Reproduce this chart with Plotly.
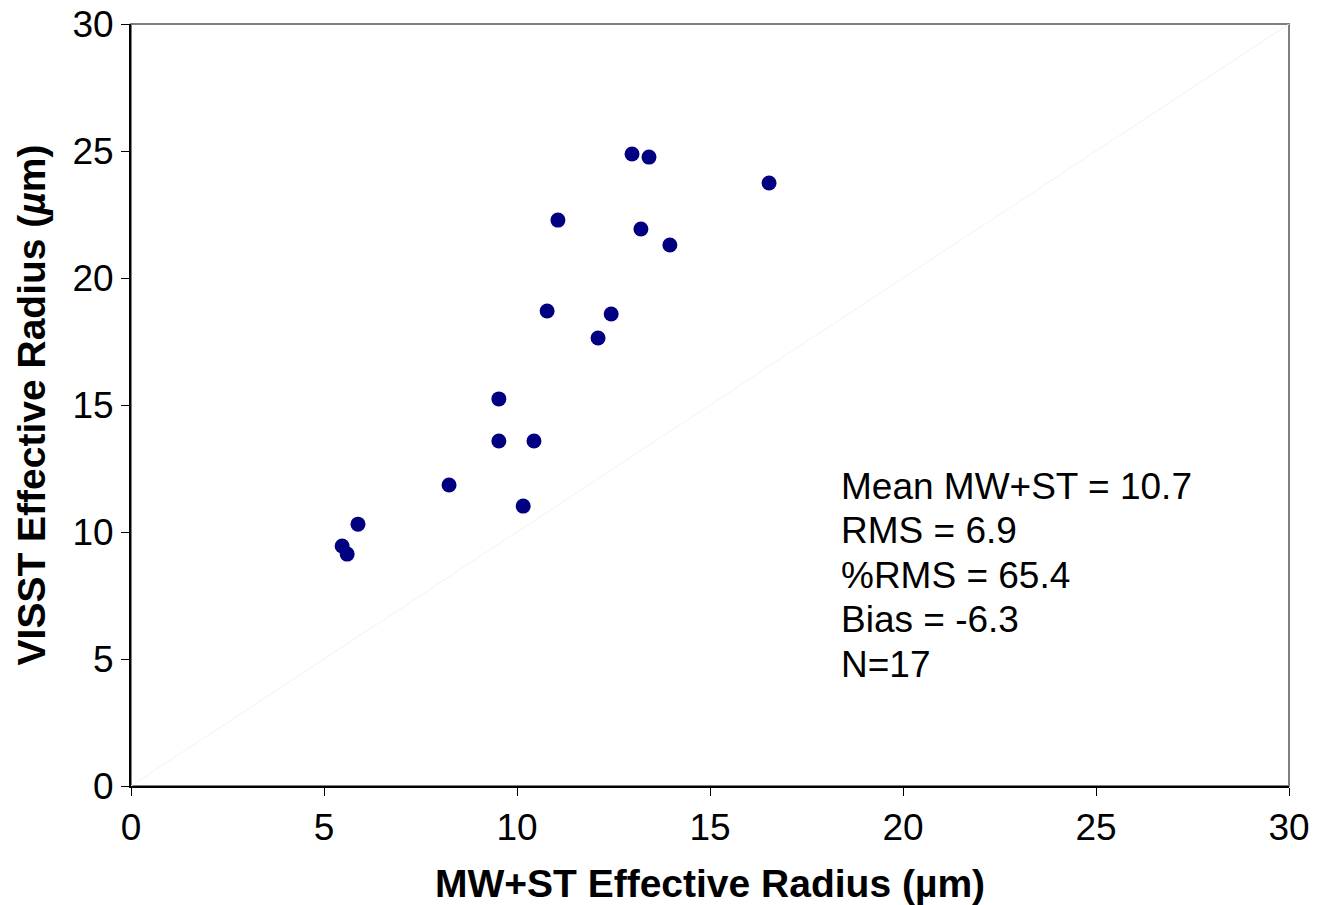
import plotly.graph_objects as go

mw_st = [5.47, 5.60, 5.88, 8.24, 9.53, 9.53, 10.16, 10.44, 10.78, 11.06, 12.10, 12.44, 12.98, 13.21, 13.42, 13.96, 16.53]
visst = [9.45, 9.13, 10.31, 11.85, 15.24, 13.58, 11.02, 13.58, 18.70, 22.28, 17.64, 18.58, 24.88, 21.93, 24.76, 21.30, 23.74]
one_to_one = [0, 30]
stats_lines = ["Mean MW+ST = 10.7", "RMS = 6.9", "%RMS = 65.4", "Bias = -6.3", "N=17"]

FONT = "Liberation Sans, Arial, sans-serif"

fig = go.Figure()
fig.add_trace(go.Scatter(x=one_to_one, y=one_to_one, mode="lines",
                         line=dict(color="#f2f2f2", width=1), hoverinfo="skip", showlegend=False))
fig.add_trace(go.Scatter(x=mw_st, y=visst, mode="markers",
                         marker=dict(color="#000080", size=15, line=dict(width=0)), showlegend=False))

# frame (top and right gray)
fig.add_shape(type="rect", xref="paper", yref="paper", x0=0, x1=1, y0=0, y1=1,
              line=dict(color="#808080", width=2), layer="below")

for i, line in enumerate(stats_lines):
    fig.add_annotation(xref="x", yref="y", x=18.35, y=11.81 - i * 1.752,
                       xanchor="left", yanchor="middle",
                       text=line, showarrow=False, align="left",
                       font=dict(family=FONT, size=37, color="black"))

axis_common = dict(range=[0, 30], dtick=5, showgrid=False, zeroline=False,
                   showline=True, linecolor="black", linewidth=2,
                   ticks="outside", ticklen=8, tickcolor="black", tickwidth=1,
                   automargin=False,
                   tickfont=dict(family=FONT, size=37, color="black"))

fig.update_xaxes(**axis_common,
                 title=dict(text="<b>MW+ST Effective Radius (µm)</b>", standoff=22,
                            font=dict(family=FONT, size=39, color="black")))
fig.update_yaxes(**axis_common,
                 title=dict(text="<b>VISST Effective Radius (<i>µ</i>m)</b>", standoff=15,
                            font=dict(family=FONT, size=39, color="black")))

fig.update_layout(width=1317, height=905, plot_bgcolor="white", paper_bgcolor="white",
                  margin=dict(l=131, r=28, t=24, b=119))

fig.write_html("out.html", config={"displayModeBar": False},
               post_script="document.body.style.margin='0';document.body.style.padding='0';")
